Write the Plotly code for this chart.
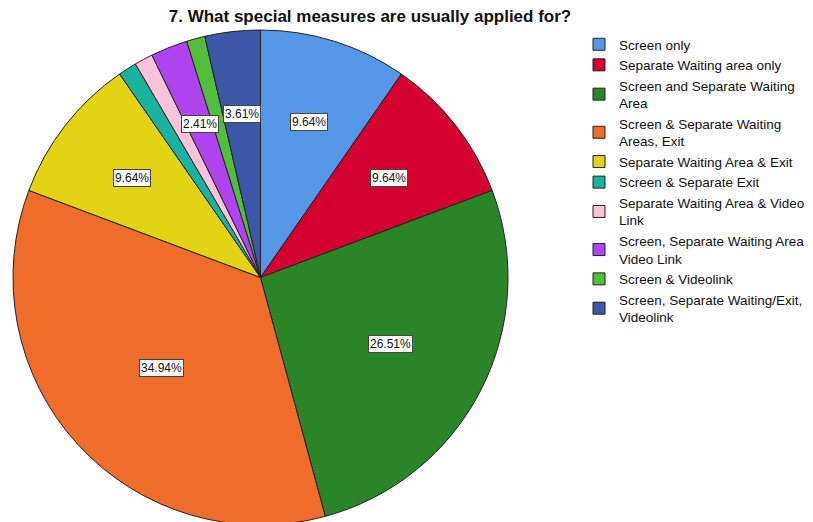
import math
import plotly.graph_objects as go

categories = [
    "Screen only",
    "Separate Waiting area only",
    "Screen and Separate Waiting<br>Area",
    "Screen & Separate Waiting<br>Areas, Exit",
    "Separate Waiting Area & Exit",
    "Screen & Separate Exit",
    "Separate Waiting Area & Video<br>Link",
    "Screen, Separate Waiting Area,<br>Video Link",
    "Screen & Videolink",
    "Screen, Separate Waiting/Exit,<br>Videolink",
]
counts = [8, 8, 22, 29, 8, 1, 1, 2, 1, 3]
colors = ["#5596E6", "#D40030", "#2A8428", "#EF6C2A", "#E2D314",
          "#1AB39F", "#FAC2DB", "#B045F0", "#52BE3B", "#3C56A8"]
title = "7. What special measures are usually applied for?"

W, H = 813, 522
mt, mb, ml, mr = 22, 5, 0, 0
pw, ph = W - ml - mr, H - mt - mb
diam = ph
cx_px = 252.5
dom_x = [(cx_px - diam / 2) / pw, (cx_px + diam / 2) / pw]

fig = go.Figure(go.Pie(
    labels=categories, values=counts, sort=False, direction="clockwise",
    rotation=0, textinfo="none", hoverinfo="label+percent",
    marker=dict(colors=colors, line=dict(color="#222222", width=1)),
    domain=dict(x=dom_x, y=[0, 1]),
))

# percentage labels at slice centroids
total = sum(counts)
R = diam / 2
cy_frac = 0.5
cx_frac = (dom_x[0] + dom_x[1]) / 2
annotations = []
cum = 0.0
for v in counts:
    frac = v / total
    theta = frac * 2 * math.pi
    mid = (cum + frac / 2) * 2 * math.pi
    cum += frac
    pct = frac * 100
    if pct < 2:
        continue
    d = 2 * R * math.sin(theta / 2) / (3 * theta / 2)
    dx = d * math.sin(mid)
    dy = d * math.cos(mid)
    annotations.append(dict(
        x=cx_frac + dx / pw, y=cy_frac + dy / ph, xref="paper", yref="paper",
        xanchor="center", yanchor="middle",
        text=f"{pct:.2f}%", showarrow=False,
        font=dict(family="Liberation Sans, Arial", size=12, color="#111111"),
        bgcolor="white", bordercolor="#444444", borderwidth=1, borderpad=1,
    ))

fig.update_layout(
    width=W, height=H,
    margin=dict(t=mt, b=mb, l=ml, r=mr),
    paper_bgcolor="white", plot_bgcolor="white",
    title=dict(text="<b>" + title + "</b>", x=362 / W, xanchor="center",
               y=1 - 8 / H, yanchor="middle",
               font=dict(family="Liberation Sans, Arial", size=17, color="#111111")),
    legend=dict(x=571 / W, xanchor="left", y=(H - mb - 21) / ph, yanchor="top",
                font=dict(family="Liberation Sans, Arial", size=13.5, color="#111111"),
                tracegroupgap=0, itemwidth=30, maxheight=510),
    annotations=annotations,
)

fig.write_html("out.html")
